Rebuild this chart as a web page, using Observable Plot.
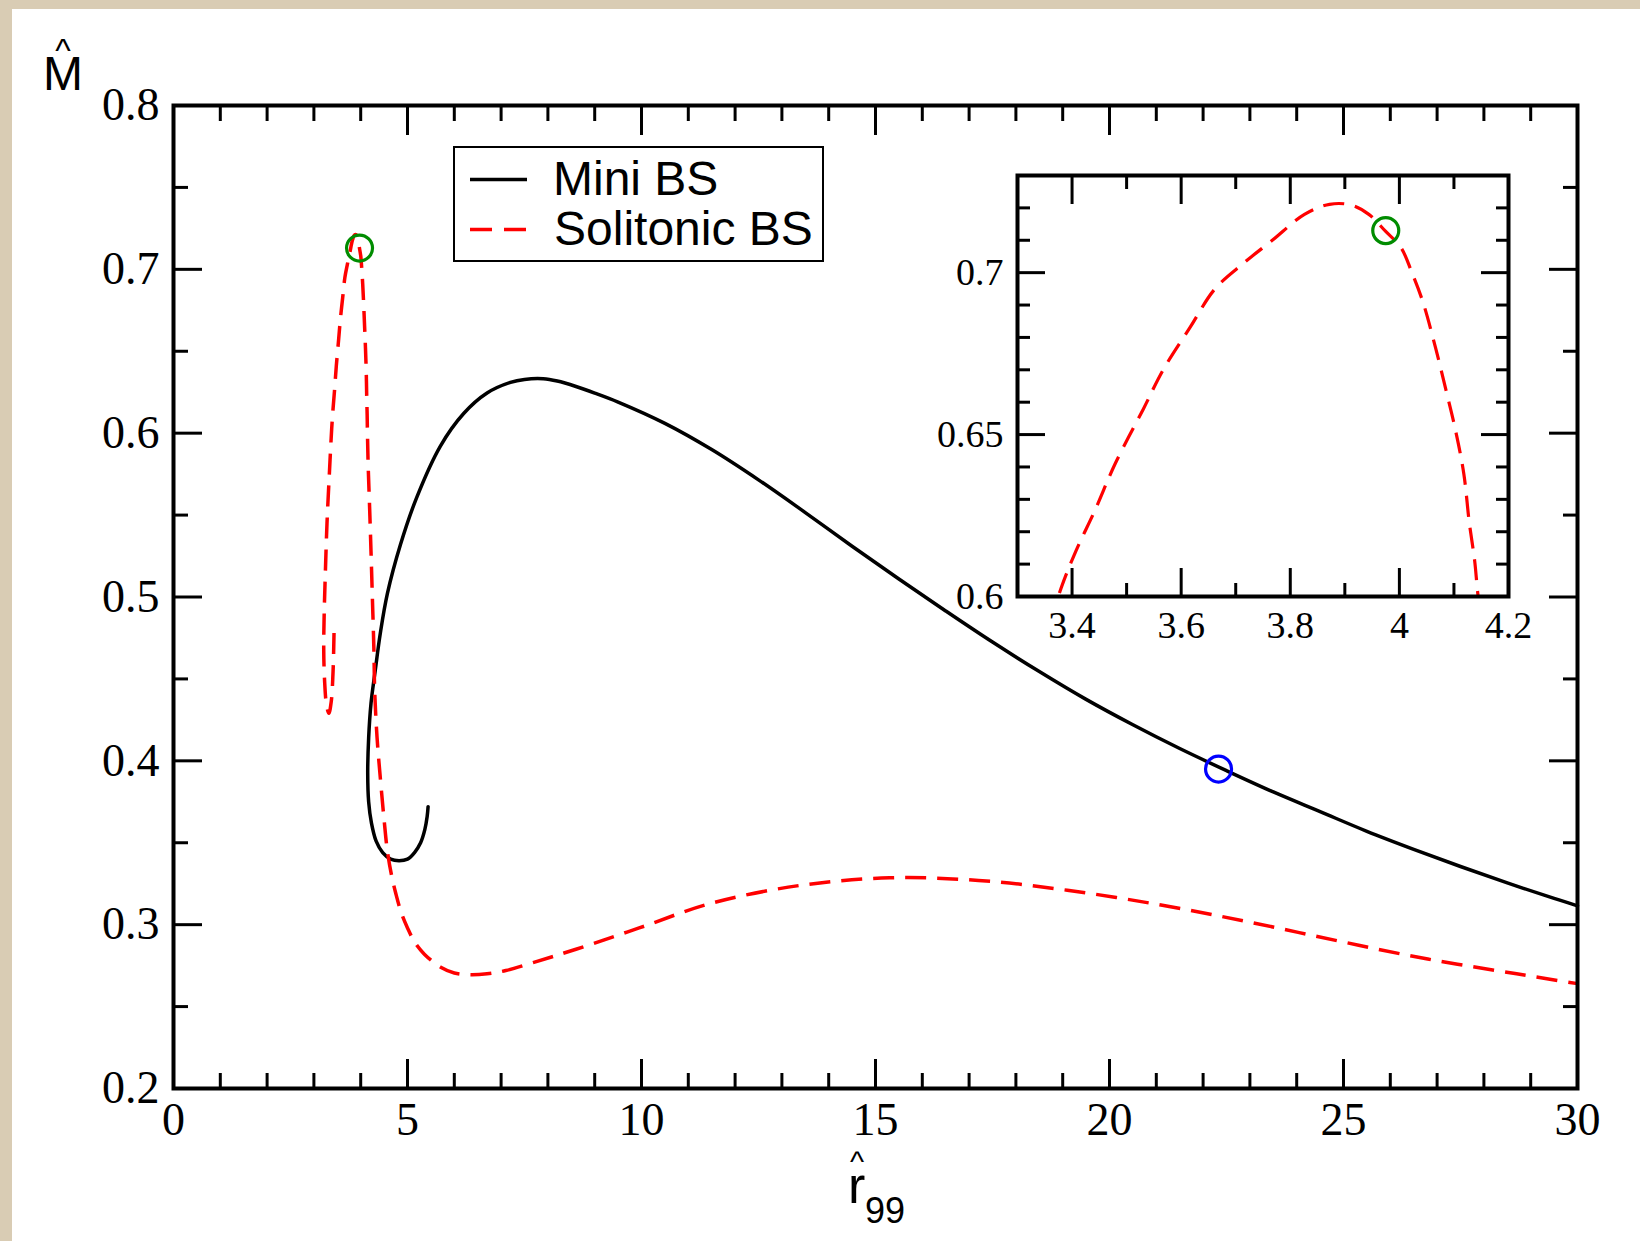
<!DOCTYPE html>
<html>
<head>
<meta charset="utf-8">
<script src="https://cdn.jsdelivr.net/npm/d3@7"></script>
<script src="https://cdn.jsdelivr.net/npm/@observablehq/plot@0.6"></script>
<style>
  html, body { margin: 0; padding: 0; overflow: hidden; background: #d9ccb4; }
  #wrap { position: relative; width: 1640px; height: 1241px; overflow: hidden; }
  #paper { position: absolute; left: 12px; top: 9px; right: 0; bottom: 0; background: #ffffff; }
  .layer { position: absolute; }
</style>
</head>
<body>
<div id="wrap">
  <div id="paper"></div>
  <div id="main" class="layer" style="left:0;top:0"></div>
  <div id="inset" class="layer" style="left:940px;top:150px"></div>
  <svg id="legend" class="layer" style="left:453px;top:146px" width="372" height="117">
    <rect x="1" y="1" width="369" height="114" fill="white" stroke="black" stroke-width="2"></rect>
    <line x1="17" x2="74" y1="33.5" y2="33.5" stroke="black" stroke-width="3.5"></line>
    <line x1="17" x2="74" y1="83.5" y2="83.5" stroke="#ff0000" stroke-width="3.5" stroke-dasharray="22,12"></line>
    <text x="100" y="49" font-family="'Liberation Sans', Arial, sans-serif" font-size="48">Mini BS</text>
    <text x="101" y="99" font-family="'Liberation Sans', Arial, sans-serif" font-size="48">Solitonic BS</text>
  </svg>
  <svg id="titles" class="layer" style="left:0;top:0" width="1640" height="1241">
    <g font-family="'Liberation Sans', Arial, sans-serif" fill="black">
      <text><tspan x="63" y="90" font-size="48" text-anchor="middle">M</tspan><tspan x="63" y="62" font-size="33" text-anchor="middle">^</tspan></text>
      <text><tspan x="848" y="1203" font-size="52">r</tspan><tspan x="857" y="1172" font-size="30" text-anchor="middle">^</tspan><tspan x="865" y="1223" font-size="36" text-anchor="start">99</tspan></text>
    </g>
  </svg>
</div>
<script>
// ---- Data ----
// Mini BS curve (ordered along the curve, from r=30 to the inner spiral end)
const miniR = [30.0, 29.5, 28.5, 27.5, 26.5, 25.5, 24.5, 23.5, 22.5, 21.5, 20.5, 19.5, 18.5, 17.5, 16.5, 15.5, 14.5, 13.5, 12.5, 11.5, 10.5, 9.5, 9.0, 8.6, 8.2, 7.9, 7.5, 7.2, 6.7, 6.2, 5.7, 5.2, 4.85, 4.57, 4.42, 4.31, 4.22, 4.17, 4.15, 4.17, 4.23, 4.33, 4.47, 4.64, 4.82, 5.0, 5.15, 5.28, 5.37, 5.42, 5.44];
const miniM = [0.3115, 0.316, 0.3255, 0.3355, 0.346, 0.357, 0.369, 0.381, 0.394, 0.4075, 0.422, 0.4375, 0.4545, 0.4725, 0.4915, 0.511, 0.531, 0.5515, 0.5715, 0.590, 0.606, 0.619, 0.6245, 0.6285, 0.6318, 0.6332, 0.6328, 0.631, 0.6245, 0.612, 0.592, 0.561, 0.532, 0.502, 0.478, 0.455, 0.435, 0.414, 0.392, 0.375, 0.362, 0.351, 0.344, 0.340, 0.339, 0.340, 0.344, 0.350, 0.358, 0.366, 0.372];

// Solitonic BS curve (ordered along the curve, from the small inner tail to r=30)
const solR = [3.43, 3.41, 3.37, 3.32, 3.27, 3.23, 3.21, 3.22, 3.245, 3.28, 3.33, 3.38, 3.407, 3.443, 3.479, 3.531, 3.567, 3.616, 3.662, 3.715, 3.767, 3.826, 3.872, 3.911, 3.944, 3.974, 4.003, 4.023, 4.043, 4.066, 4.085, 4.102, 4.118, 4.128, 4.138, 4.144, 4.16, 4.19, 4.22, 4.25, 4.28, 4.30, 4.35, 4.43, 4.50, 4.57, 4.66, 4.75, 4.87, 5.0, 5.16, 5.36, 5.71, 6.0, 6.35, 6.7, 7.1, 7.7, 8.6, 9.95, 11.48, 13.4, 15.3, 17.2, 19.1, 21.1, 23.0, 24.9, 26.8, 28.7, 30.0];
const solM = [0.478, 0.455, 0.436, 0.429, 0.434, 0.448, 0.468, 0.490, 0.515, 0.545, 0.575, 0.6026, 0.614, 0.627, 0.641, 0.658, 0.670, 0.683, 0.695, 0.703, 0.710, 0.718, 0.7211, 0.7209, 0.718, 0.7129, 0.7077, 0.700, 0.691, 0.677, 0.664, 0.652, 0.638, 0.623, 0.611, 0.6005, 0.580, 0.555, 0.528, 0.499, 0.470, 0.442, 0.414, 0.386, 0.364, 0.345, 0.330, 0.319, 0.307, 0.298, 0.289, 0.282, 0.274, 0.2705, 0.2694, 0.270, 0.272, 0.277, 0.285, 0.298, 0.313, 0.324, 0.3286, 0.327, 0.321, 0.312, 0.3015, 0.290, 0.279, 0.270, 0.264];

// Highlighted configurations
const greenR = [3.975];
const greenM = [0.713];
const blueR = [22.33];
const blueM = [0.395];

// Ticks
const xMajor = [0, 5, 10, 15, 20, 25, 30];
const xMinor = [1, 2, 3, 4, 6, 7, 8, 9, 11, 12, 13, 14, 16, 17, 18, 19, 21, 22, 23, 24, 26, 27, 28, 29];
const yMajor = [0.2, 0.3, 0.4, 0.5, 0.6, 0.7, 0.8];
const yMinor = [0.25, 0.35, 0.45, 0.55, 0.65, 0.75];
const xLabels = ["0", "5", "10", "15", "20", "25", "30"];
const yLabels = ["0.2", "0.3", "0.4", "0.5", "0.6", "0.7", "0.8"];

const insetXMajor = [3.4, 3.6, 3.8, 4.0, 4.2];
const insetXMinor = [3.5, 3.7, 3.9, 4.1];
const insetYMajor = [0.6, 0.65, 0.7];
const insetYMinor = [0.61, 0.62, 0.63, 0.64, 0.66, 0.67, 0.68, 0.69, 0.71, 0.72];
const insetXLabels = ["3.4", "3.6", "3.8", "4", "4.2"];
const insetYLabels = ["0.6", "0.65", "0.7"];

// ---- Build tables ----
const mini = miniR.map((r, i) => ({r, m: miniM[i]}));
const sol = solR.map((r, i) => ({r, m: solM[i]}));
const green = greenR.map((r, i) => ({r, m: greenM[i]}));
const blue = blueR.map((r, i) => ({r, m: blueM[i]}));

const serif = "'Liberation Serif', 'Times New Roman', serif";
const fmt = (ticks, labels) => (d) => labels[ticks.findIndex(t => Math.abs(t - d) < 1e-9)];

function tickAxes(xMaj, xMin, yMaj, yMin, majLen, minLen, sw) {
  const common = {label: null, fill: "none", strokeWidth: sw, strokeLinecap: "butt"};
  return [
    Plot.axisX(xMaj, {...common, anchor: "bottom", tickSize: -majLen}),
    Plot.axisX(xMaj, {...common, anchor: "top", tickSize: -majLen}),
    Plot.axisX(xMin, {...common, anchor: "bottom", tickSize: -minLen}),
    Plot.axisX(xMin, {...common, anchor: "top", tickSize: -minLen}),
    Plot.axisY(yMaj, {...common, anchor: "left", tickSize: -majLen}),
    Plot.axisY(yMaj, {...common, anchor: "right", tickSize: -majLen}),
    Plot.axisY(yMin, {...common, anchor: "left", tickSize: -minLen}),
    Plot.axisY(yMin, {...common, anchor: "right", tickSize: -minLen})
  ];
}

const mainPlot = Plot.plot({
  width: 1640,
  height: 1241,
  marginLeft: 173,
  marginRight: 63,
  marginTop: 105,
  marginBottom: 153,
  x: {domain: [0, 30], label: null},
  y: {domain: [0.2, 0.8], label: null},
  style: {background: "transparent", fontFamily: serif, fontSize: "46px", color: "black", overflow: "visible"},
  marks: [
    Plot.line(mini, {x: "r", y: "m", stroke: "black", strokeWidth: 3.5, curve: "catmull-rom"}),
    Plot.line(sol, {x: "r", y: "m", stroke: "#ff0000", strokeWidth: 3.5, strokeDasharray: "21,11", strokeLinecap: "butt", curve: "catmull-rom"}),
    Plot.dot(green, {x: "r", y: "m", r: 13, stroke: "#008c00", strokeWidth: 3.2}),
    Plot.dot(blue, {x: "r", y: "m", r: 13, stroke: "#0000ff", strokeWidth: 3.2}),
    ...tickAxes(xMajor, xMinor, yMajor, yMinor, 29, 15, 3),
    Plot.axisX(xMajor, {anchor: "bottom", tickSize: 0, tickPadding: 14, label: null, tickFormat: fmt(xMajor, xLabels)}),
    Plot.axisY(yMajor, {anchor: "left", tickSize: 0, tickPadding: 14, label: null, tickFormat: fmt(yMajor, yLabels)}),
    Plot.frame({stroke: "black", strokeWidth: 4})
  ]
});
document.getElementById("main").appendChild(mainPlot);

const insetPlot = Plot.plot({
  width: 620,
  height: 510,
  marginLeft: 77,
  marginRight: 52,
  marginTop: 25,
  marginBottom: 64,
  x: {domain: [3.3, 4.2], label: null},
  y: {domain: [0.6, 0.73], label: null},
  style: {background: "transparent", fontFamily: serif, fontSize: "38px", color: "black", overflow: "visible"},
  marks: [
    Plot.line(sol, {x: "r", y: "m", stroke: "#ff0000", strokeWidth: 3.2, strokeDasharray: "21,11", strokeLinecap: "butt", curve: "catmull-rom", clip: true}),
    Plot.dot(green, {x: "r", y: "m", r: 13, stroke: "#008c00", strokeWidth: 3.2}),
    ...tickAxes(insetXMajor, insetXMinor, insetYMajor, insetYMinor, 28, 13, 3),
    Plot.axisX(insetXMajor, {anchor: "bottom", tickSize: 0, tickPadding: 15, label: null, tickFormat: fmt(insetXMajor, insetXLabels)}),
    Plot.axisY(insetYMajor, {anchor: "left", tickSize: 0, tickPadding: 14, label: null, tickFormat: fmt(insetYMajor, insetYLabels)}),
    Plot.frame({stroke: "black", strokeWidth: 4})
  ]
});
document.getElementById("inset").appendChild(insetPlot);
</script>
</body>
</html>
